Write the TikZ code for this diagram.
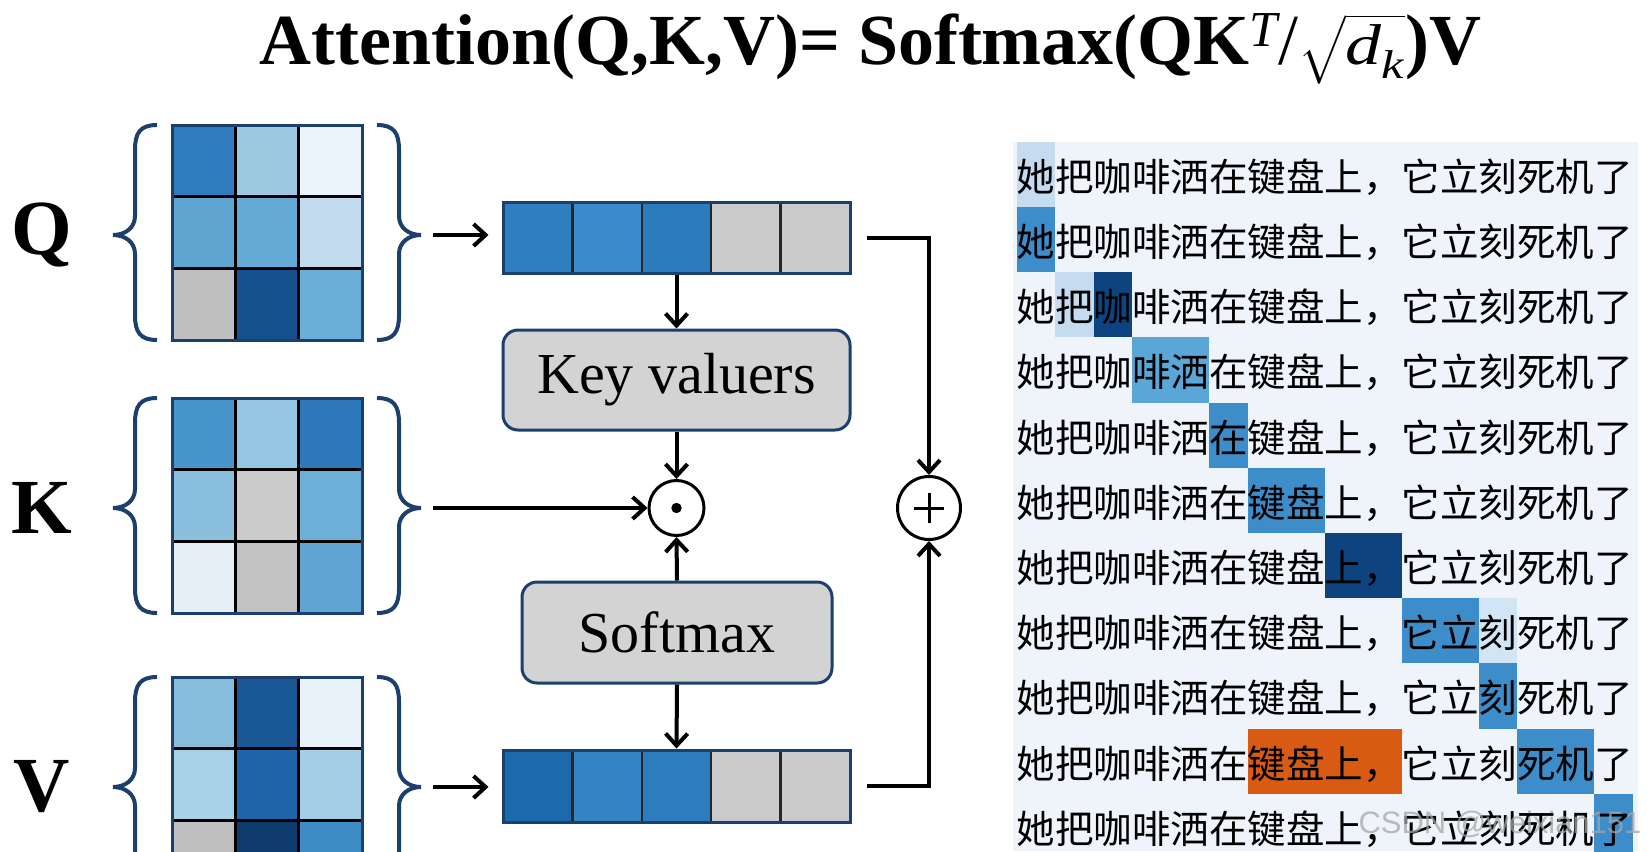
\documentclass[tikz,border=0pt]{standalone}
\usepackage{amsmath}
\usepackage{graphicx}
\usepackage{fontspec}
\setmainfont{Liberation Serif}
\setsansfont{Liberation Sans}
\newfontfamily\cjk{Noto Sans CJK SC}
\usetikzlibrary{arrows.meta,calc}
\definecolor{navy}{HTML}{1B3F6F}
\definecolor{boxgray}{HTML}{D3D3D3}
\definecolor{panelbg}{HTML}{EEF4FA}
% Q
\definecolor{qa}{HTML}{2F7BBD}\definecolor{qb}{HTML}{9CC8E2}\definecolor{qc}{HTML}{EAF3FB}
\definecolor{qd}{HTML}{5EA5D2}\definecolor{qe}{HTML}{63AAD6}\definecolor{qf}{HTML}{C2DBEE}
\definecolor{qg}{HTML}{BFBFBF}\definecolor{qh}{HTML}{15518F}\definecolor{qi}{HTML}{6AAFD7}
% K
\definecolor{ka}{HTML}{4795CA}\definecolor{kb}{HTML}{95C7E4}\definecolor{kc}{HTML}{2E78BB}
\definecolor{kd}{HTML}{8ABFDE}\definecolor{ke}{HTML}{CBCBCB}\definecolor{kf}{HTML}{6CAFD7}
\definecolor{kg}{HTML}{E5EFF8}\definecolor{kh}{HTML}{C2C2C2}\definecolor{ki}{HTML}{5FA4D2}
% V
\definecolor{va}{HTML}{87BDDC}\definecolor{vb}{HTML}{1A5797}\definecolor{vc}{HTML}{E9F2FA}
\definecolor{vd}{HTML}{A8D0E6}\definecolor{ve}{HTML}{1E64A8}\definecolor{vf}{HTML}{A3CEE5}
\definecolor{vg}{HTML}{BFBFBF}\definecolor{vh}{HTML}{0E3B6E}\definecolor{vi}{HTML}{3E8BC6}
% vectors
\definecolor{pa}{HTML}{2E7FC2}\definecolor{pb}{HTML}{3A8BCA}\definecolor{pc}{HTML}{2B7BBF}
\definecolor{ra}{HTML}{1D69AE}\definecolor{rb}{HTML}{3483C3}\definecolor{rc}{HTML}{2C7CC0}
\definecolor{vgray}{HTML}{CACACA}
% heatmap
\definecolor{hlight}{HTML}{C5DCF0}
\definecolor{hpale}{HTML}{D2E5F5}
\definecolor{hmid}{HTML}{3D8DCA}
\definecolor{hmidb}{HTML}{5AA6D6}
\definecolor{hdark}{HTML}{0D4480}
\definecolor{horange}{HTML}{D85A13}

\begin{document}
\begin{tikzpicture}[x=0.5pt,y=-0.5pt,
  arr/.style={line width=2pt,-{Straight Barb[length=6pt,width=11pt]}},
  brace/.style={draw=navy,line width=2pt},
  lbl/.style={inner sep=0pt,font=\fontsize{39}{40}\selectfont\bfseries},
  matbox/.style={draw=navy,line width=1.5pt,minimum width=95pt,minimum height=107.5pt,inner sep=0pt},
  vecbox/.style={draw=navy,line width=1.5pt,minimum width=173.5pt,minimum height=35.5pt,inner sep=0pt},
  opbox/.style={draw=navy,line width=1.5pt,fill=boxgray,rounded corners=7.5pt,inner sep=0pt,font=\fontsize{29}{32}\selectfont},
  opcirc/.style={circle,draw=black,line width=1.5pt,fill=white,inner sep=0pt},
  rowtext/.style={inner sep=0pt,anchor=base west,font=\cjk\fontsize{19.25}{20}\selectfont},
  braces/.pic={
    \draw[brace] (-15,0) .. controls (-32,0) and (-37,8) .. (-37,25) -- (-37,91)
      .. controls (-37,103) and (-47,110) .. (-59,110)
      .. controls (-47,110) and (-37,117) .. (-37,129) -- (-37,190)
      .. controls (-37,207) and (-32,215) .. (-15,215);
    \draw[brace] (205,0) .. controls (222,0) and (227,8) .. (227,25) -- (227,91)
      .. controls (227,103) and (237,110) .. (249,110)
      .. controls (237,110) and (227,117) .. (227,129) -- (227,190)
      .. controls (227,207) and (222,215) .. (205,215);
  }]
\useasboundingbox (0,0) rectangle (1647,851);
\fill[white] (0,0) rectangle (1647,851);

% title
\node[anchor=base,inner sep=0pt,text height=26pt,text depth=8pt] (title) at (870.5,64)
  {\resizebox{610.5pt}{!}{\fontsize{37.75}{40}\selectfont\bfseries Attention(Q,K,V)= Softmax(QK\textsuperscript{\mdseries\itshape T}{\mdseries /}\scalebox{1}[0.8]{$\sqrt{\text{\mdseries\itshape d}_{\text{\mdseries\itshape k}}}$})V}};

% labels
\node[lbl] (lq) at (42,235) {Q};
\node[lbl] (lk) at (42,508) {K};
\node[lbl] (lv) at (42,787) {V};

% matrices
\foreach \T/\L in {125/{qa,qb,qc,qd,qe,qf,qg,qh,qi},398/{ka,kb,kc,kd,ke,kf,kg,kh,ki},677/{va,vb,vc,vd,ve,vf,vg,vh,vi}}{
  \foreach \c [count=\i from 0] in \L {
    \pgfmathtruncatemacro\rr{int(\i/3)}
    \pgfmathtruncatemacro\cc{mod(\i,3)}
    \fill[\c] (172+63.333*\cc,\T+71.667*\rr) rectangle ++(63.333,71.667);
  }
  \foreach \k in {1,2} {
    \draw[line width=1.3pt,black] (172+63.333*\k,\T) -- ++(0,215);
    \draw[line width=1.3pt,black] (172,\T+71.667*\k) -- ++(190,0);
  }
  \pic at (172,\T) {braces};
}
\node[matbox] (mq) at (267,232.5) {};
\node[matbox] (mk) at (267,505.5) {};
\node[matbox] (mv) at (267,784.5) {};
\coordinate (qtip) at (433,235);
\coordinate (ktip) at (433,508);
\coordinate (vtip) at (433,787);

% vectors
\foreach \c [count=\i from 0] in {pa,pb,pc,vgray,vgray}
  \fill[\c] (503+69.4*\i,202) rectangle ++(69.4,71);
\foreach \c [count=\i from 0] in {ra,rb,rc,vgray,vgray}
  \fill[\c] (503+69.4*\i,750) rectangle ++(69.4,72);
\foreach \i in {1,...,4} {
  \draw[line width=1.2pt,black!85] (503+69.4*\i,202) -- ++(0,71);
  \draw[line width=1.2pt,black!85] (503+69.4*\i,750) -- ++(0,72);
}
\node[vecbox] (v1) at (676.5,237.5) {};
\node[vecbox,minimum height=36pt] (v2) at (676.5,786) {};

% operation boxes
\node[opbox,minimum width=173.5pt,minimum height=50pt] (kv) at (676.5,380) {Key valuers};
\node[opbox,minimum width=155pt,minimum height=50.5pt] (sm) at (677,632.5) {Softmax};

% operators
\node[opcirc,minimum size=27.5pt] (dot) at (676.5,508) {};
\fill (dot.center) circle (2.6pt);
\node[opcirc,minimum size=31.5pt] (plus) at (929,508) {};
\draw[line width=1.5pt] ($(plus.center)+(-15,0)$) -- ($(plus.center)+(15,0)$);
\draw[line width=1.5pt] ($(plus.center)+(0,-15)$) -- ($(plus.center)+(0,15)$);

% connectors
\draw[arr,shorten >=6.5pt] (qtip) -- (qtip -| v1.west);
\draw[arr,shorten >=6.5pt] (vtip) -- (vtip -| v2.west);
\draw[arr] (v1.south) -- (kv.north);
\draw[arr] (kv.south) -- (dot.north);
\draw[arr] (ktip) -- (dot.west);
\draw[arr] (sm.north) -- (dot.south);
\draw[arr] (sm.south) -- (v2.north);
\draw[arr] ([xshift=7.5pt]v1.east) -| (plus.north);
\draw[arr] ([xshift=7.5pt]v2.east) -| (plus.south);

% heatmap panel
\fill[panelbg] (1013,142) rectangle (1638,851);
\foreach \r/\c/\n/\col in {0/0/1/hlight,1/0/1/hmid,2/1/1/hlight,2/2/1/hdark,3/3/2/hmidb,
    4/5/1/hmid,5/6/2/hmid,6/8/2/hdark,7/10/2/hmid,7/12/1/hpale,8/12/1/hmid,
    9/6/4/horange,9/13/2/hmid,10/15/1/hmid}
  \fill[\col] (1016.5+38.5*\c,141.7+65.2*\r) rectangle ++(38.5*\n,65.2);
\foreach \r in {0,...,10}
  \node[rowtext] (row\r) at (1016.5,141.7+65.2*\r+49.5) {她把咖啡洒在键盘上，它立刻死机了};

% watermark
\node[inner sep=0pt,anchor=base,text=gray!70,opacity=0.75,font=\sffamily\fontsize{15.5}{16}\selectfont] (wm) at (1500,833) {CSDN @weixian151};
\end{tikzpicture}
\end{document}
